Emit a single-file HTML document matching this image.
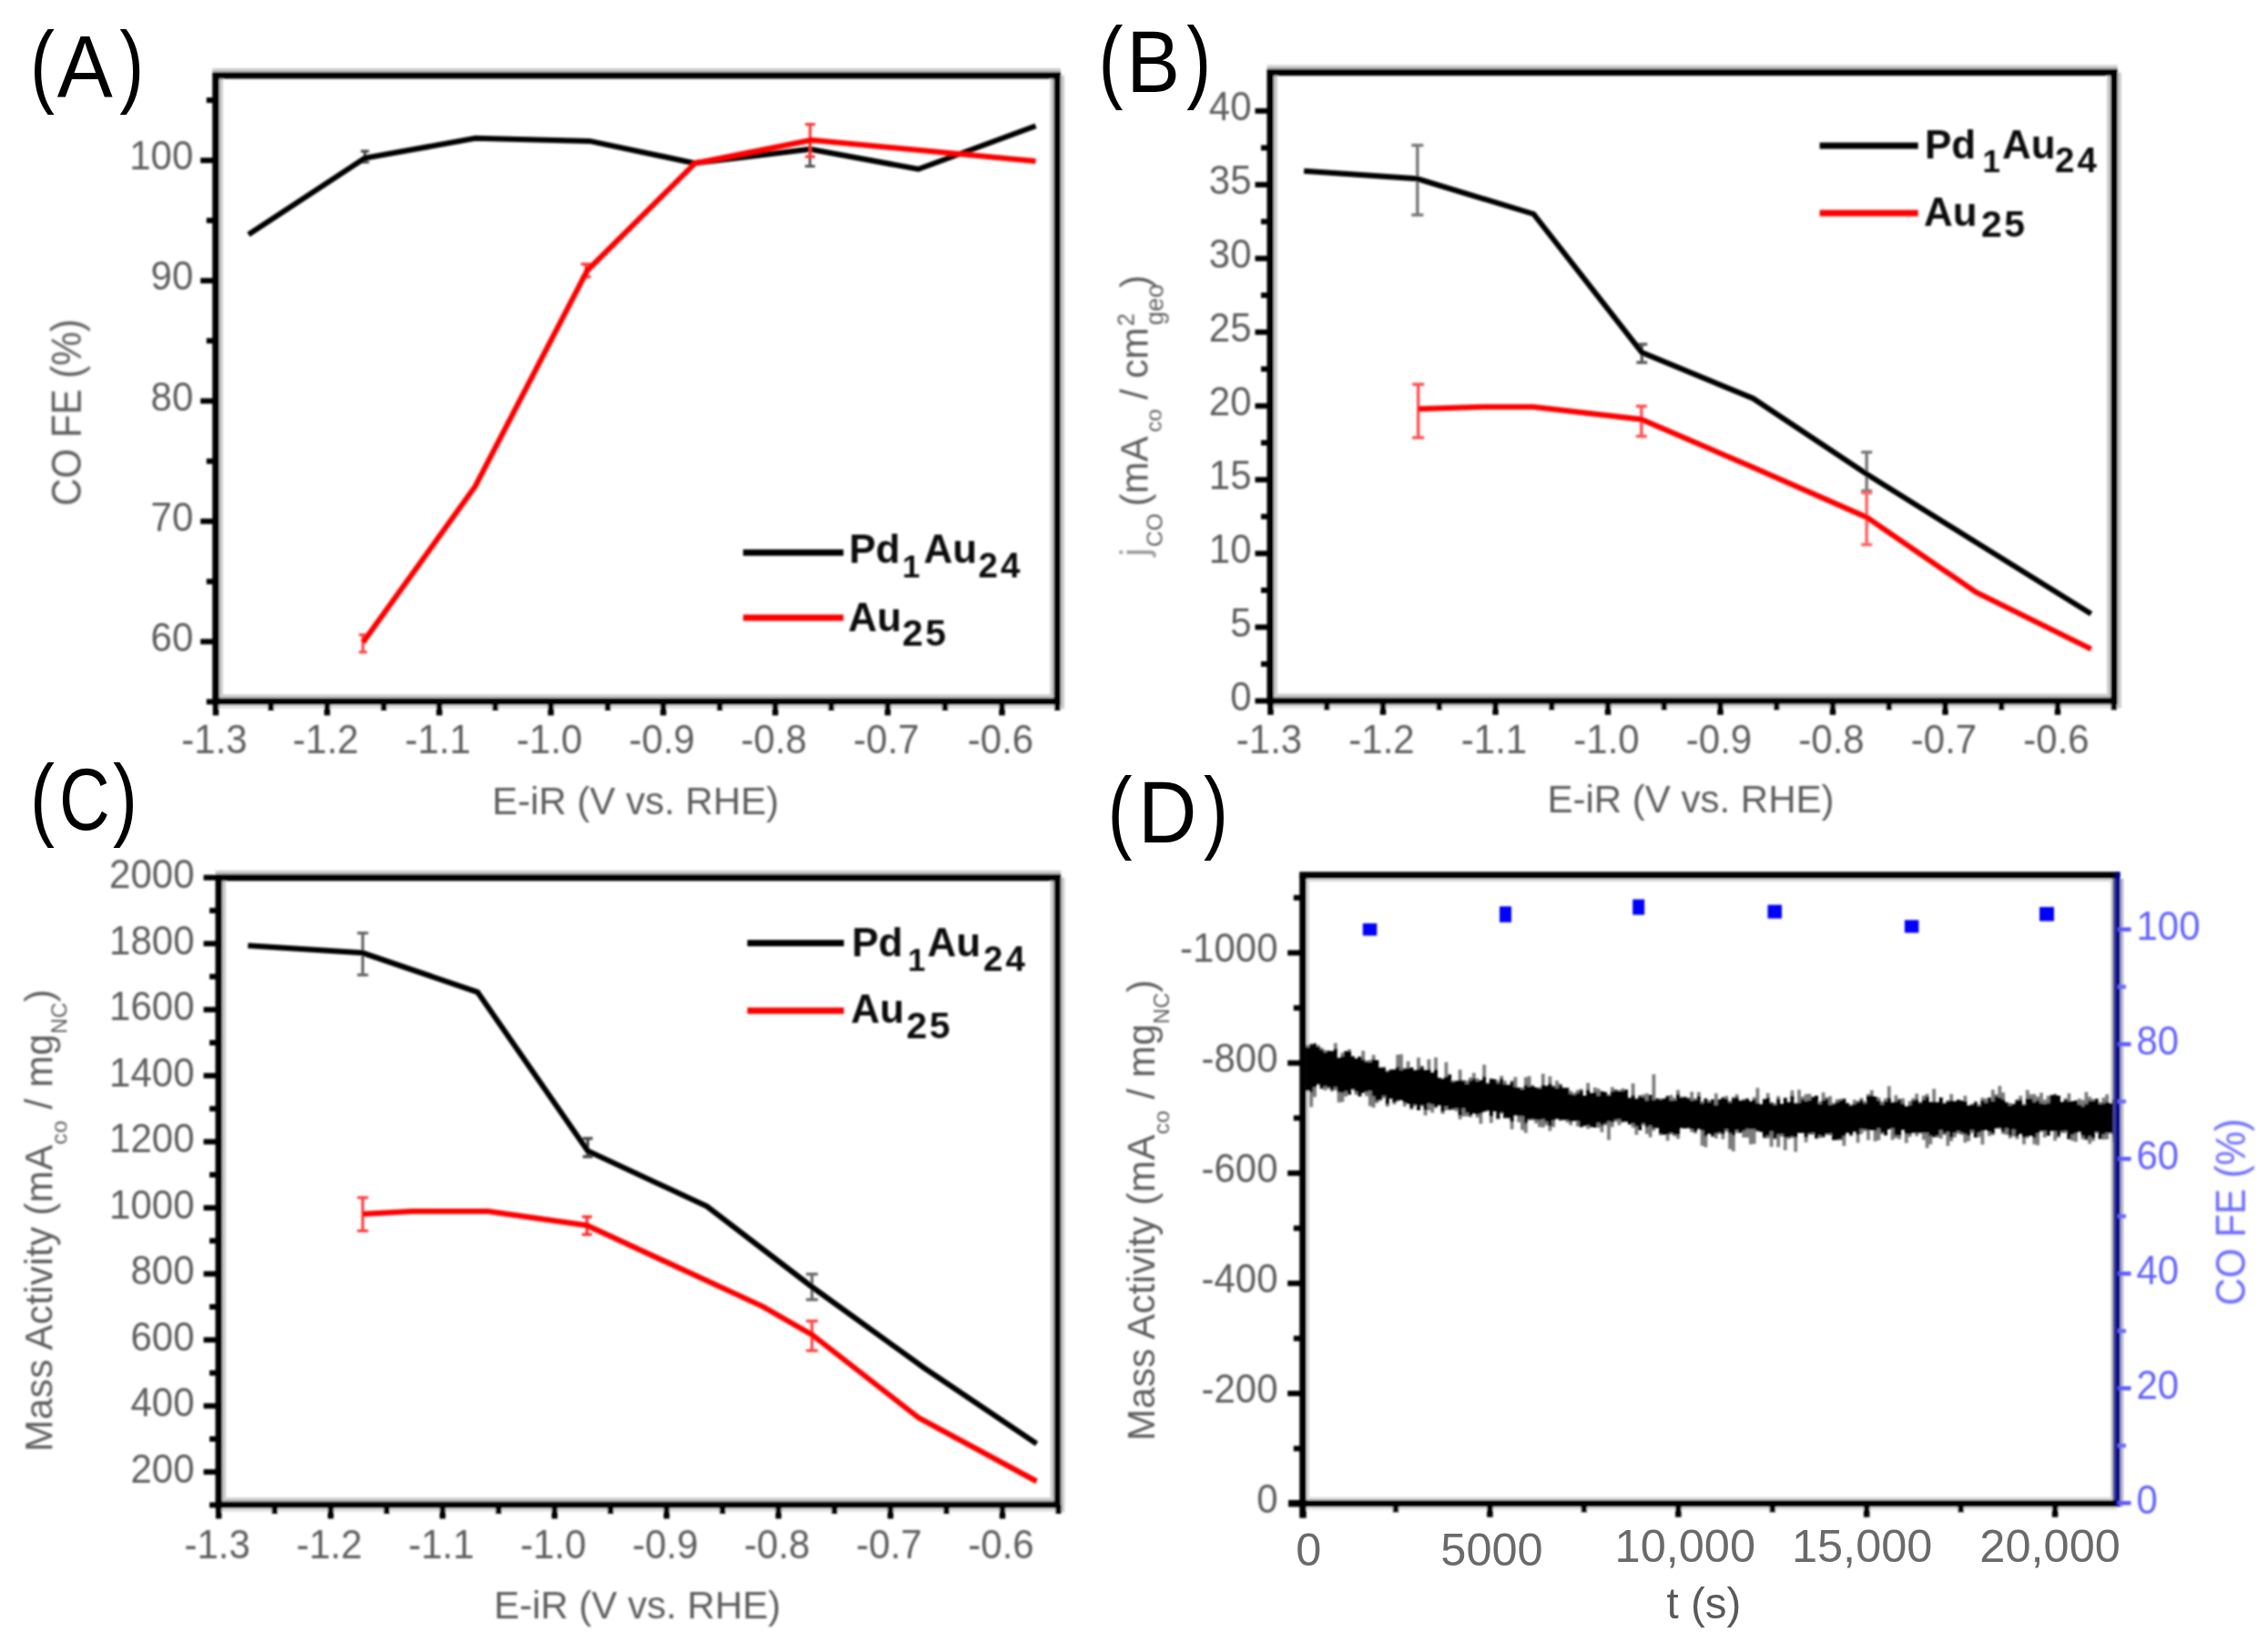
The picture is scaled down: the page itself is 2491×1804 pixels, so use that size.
<!DOCTYPE html>
<html lang="en"><head><meta charset="utf-8"><title>Pd1Au24 vs Au25 CO2 reduction</title>
<style>html,body{margin:0;padding:0;background:#fff}svg{display:block}text{font-family:'Liberation Sans', sans-serif}</style>
</head><body>
<svg width="2491" height="1804" viewBox="0 0 2491 1804">
<defs><filter id="b" x="-2%" y="-2%" width="104%" height="104%"><feGaussianBlur stdDeviation="1.3"/></filter><filter id="b2" x="-2%" y="-2%" width="104%" height="104%"><feGaussianBlur stdDeviation="0.6"/></filter></defs>
<rect x="0" y="0" width="2491" height="1804" fill="#fff"/>
<g id="panelA" filter="url(#b)">
<line x1="233.2" y1="77.1" x2="1165" y2="77.1" stroke="#cacaca" stroke-width="4.4" />
<line x1="242.6" y1="82.7" x2="242.6" y2="770.2" stroke="#cacaca" stroke-width="4.4" />
<line x1="1166.9" y1="82.7" x2="1166.9" y2="778.2" stroke="#cacaca" stroke-width="4.4" />
<line x1="1155.7" y1="82.7" x2="1155.7" y2="770.2" stroke="#cacaca" stroke-width="4.4" />
<line x1="237" y1="764.6" x2="1161.3" y2="764.6" stroke="#cacaca" stroke-width="4.4" />
<line x1="237" y1="775.8" x2="1161.3" y2="775.8" stroke="#e2e2e2" stroke-width="4.4" />
<rect x="237" y="82.7" width="924.3" height="687.5" fill="none" stroke="#000" stroke-width="7.5"/>
<line x1="237" y1="770.2" x2="237" y2="785.5" stroke="#000" stroke-width="6.5" />
<line x1="359.3" y1="770.2" x2="359.3" y2="785.5" stroke="#000" stroke-width="6.5" />
<line x1="482.5" y1="770.2" x2="482.5" y2="785.5" stroke="#000" stroke-width="6.5" />
<line x1="605" y1="770.2" x2="605" y2="785.5" stroke="#000" stroke-width="6.5" />
<line x1="728.5" y1="770.2" x2="728.5" y2="785.5" stroke="#000" stroke-width="6.5" />
<line x1="851.5" y1="770.2" x2="851.5" y2="785.5" stroke="#000" stroke-width="6.5" />
<line x1="975" y1="770.2" x2="975" y2="785.5" stroke="#000" stroke-width="6.5" />
<line x1="1100.5" y1="770.2" x2="1100.5" y2="785.5" stroke="#000" stroke-width="6.5" />
<line x1="297.5" y1="770.2" x2="297.5" y2="780" stroke="#000" stroke-width="6.5" />
<line x1="421.5" y1="770.2" x2="421.5" y2="780" stroke="#000" stroke-width="6.5" />
<line x1="544" y1="770.2" x2="544" y2="780" stroke="#000" stroke-width="6.5" />
<line x1="667.5" y1="770.2" x2="667.5" y2="780" stroke="#000" stroke-width="6.5" />
<line x1="790.5" y1="770.2" x2="790.5" y2="780" stroke="#000" stroke-width="6.5" />
<line x1="913" y1="770.2" x2="913" y2="780" stroke="#000" stroke-width="6.5" />
<line x1="1038" y1="770.2" x2="1038" y2="780" stroke="#000" stroke-width="6.5" />
<line x1="1161.3" y1="770.2" x2="1161.3" y2="780" stroke="#000" stroke-width="6.5" />
<line x1="237" y1="704.5" x2="220.2" y2="704.5" stroke="#000" stroke-width="6" />
<line x1="237" y1="572.4" x2="220.2" y2="572.4" stroke="#000" stroke-width="6" />
<line x1="237" y1="440.3" x2="220.2" y2="440.3" stroke="#000" stroke-width="6" />
<line x1="237" y1="308.2" x2="220.2" y2="308.2" stroke="#000" stroke-width="6" />
<line x1="237" y1="176.1" x2="220.2" y2="176.1" stroke="#000" stroke-width="6" />
<line x1="237" y1="770.5" x2="226.8" y2="770.5" stroke="#000" stroke-width="6" />
<line x1="237" y1="638.5" x2="226.8" y2="638.5" stroke="#000" stroke-width="6" />
<line x1="237" y1="506.4" x2="226.8" y2="506.4" stroke="#000" stroke-width="6" />
<line x1="237" y1="374.2" x2="226.8" y2="374.2" stroke="#000" stroke-width="6" />
<line x1="237" y1="242.1" x2="226.8" y2="242.1" stroke="#000" stroke-width="6" />
<line x1="237" y1="110" x2="226.8" y2="110" stroke="#000" stroke-width="6" />
<text transform="translate(235.5,827) scale(1,1.075)" font-size="42" fill="#5e5e5e" text-anchor="middle">-1.3</text>
<text transform="translate(357.8,827) scale(1,1.075)" font-size="42" fill="#5e5e5e" text-anchor="middle">-1.2</text>
<text transform="translate(481,827) scale(1,1.075)" font-size="42" fill="#5e5e5e" text-anchor="middle">-1.1</text>
<text transform="translate(603.5,827) scale(1,1.075)" font-size="42" fill="#5e5e5e" text-anchor="middle">-1.0</text>
<text transform="translate(727,827) scale(1,1.075)" font-size="42" fill="#5e5e5e" text-anchor="middle">-0.9</text>
<text transform="translate(850,827) scale(1,1.075)" font-size="42" fill="#5e5e5e" text-anchor="middle">-0.8</text>
<text transform="translate(973.5,827) scale(1,1.075)" font-size="42" fill="#5e5e5e" text-anchor="middle">-0.7</text>
<text transform="translate(1099,827) scale(1,1.075)" font-size="42" fill="#5e5e5e" text-anchor="middle">-0.6</text>
<text transform="translate(212.3,714.7) scale(1,1.075)" font-size="42" fill="#5e5e5e" text-anchor="end">60</text>
<text transform="translate(212.3,582.6) scale(1,1.075)" font-size="42" fill="#5e5e5e" text-anchor="end">70</text>
<text transform="translate(212.3,450.5) scale(1,1.075)" font-size="42" fill="#5e5e5e" text-anchor="end">80</text>
<text transform="translate(212.3,318.4) scale(1,1.075)" font-size="42" fill="#5e5e5e" text-anchor="end">90</text>
<text transform="translate(212.3,186.3) scale(1,1.075)" font-size="42" fill="#5e5e5e" text-anchor="end">100</text>
<text x="698" y="893.5" font-size="42" fill="#5e5e5e" text-anchor="middle" font-weight="normal" >E-iR (V vs. RHE)</text>
<text transform="translate(88.8,555.5) rotate(-90) scale(1,1.1)" font-size="42" fill="#5e5e5e">CO FE (%)</text>
<line x1="889.6" y1="156" x2="889.6" y2="182.5" stroke="#555" stroke-width="3" />
<line x1="884.1" y1="156" x2="895.1" y2="156" stroke="#555" stroke-width="3" />
<line x1="884.1" y1="182.5" x2="895.1" y2="182.5" stroke="#555" stroke-width="3" />
<line x1="400.8" y1="166" x2="400.8" y2="178" stroke="#444" stroke-width="3" />
<line x1="396.3" y1="166" x2="405.3" y2="166" stroke="#444" stroke-width="3" />
<line x1="396.3" y1="178" x2="405.3" y2="178" stroke="#444" stroke-width="3" />
<polyline points="272.9,257.4 400.8,173.6 522,151.8 647.7,154.9 762.8,179.1 889.6,163.7 1008.6,185.7 1137.6,138.3" fill="none" stroke="#000" stroke-width="6" stroke-linejoin="miter" stroke-linecap="butt"/>
<line x1="889.8" y1="136.5" x2="889.8" y2="172" stroke="#ff3030" stroke-width="3" />
<line x1="884.3" y1="136.5" x2="895.3" y2="136.5" stroke="#ff3030" stroke-width="3" />
<line x1="884.3" y1="172" x2="895.3" y2="172" stroke="#ff3030" stroke-width="3" />
<line x1="643.5" y1="290" x2="643.5" y2="304" stroke="#ff3030" stroke-width="3" />
<line x1="638" y1="290" x2="649" y2="290" stroke="#ff3030" stroke-width="3" />
<line x1="638" y1="304" x2="649" y2="304" stroke="#ff3030" stroke-width="3" />
<line x1="398.6" y1="697" x2="398.6" y2="716" stroke="#ff4040" stroke-width="3" />
<line x1="394.1" y1="697" x2="403.1" y2="697" stroke="#ff4040" stroke-width="3" />
<line x1="394.1" y1="716" x2="403.1" y2="716" stroke="#ff4040" stroke-width="3" />
<polyline points="398.6,705.5 522,534 645,297 763.5,179.2 891,153.8 1137.6,176.9" fill="none" stroke="#ff0000" stroke-width="6" stroke-linejoin="miter" stroke-linecap="butt"/>
<line x1="816.2" y1="606.7" x2="926.4" y2="606.7" stroke="#000" stroke-width="7" />
<line x1="816.2" y1="678.2" x2="926.4" y2="678.2" stroke="#ff0000" stroke-width="7" />
<text font-weight="bold" fill="#111" font-size="44"><tspan x="932.5" y="618.3">Pd</tspan><tspan x="991" y="633.8" font-size="35">1</tspan><tspan x="1014.6" y="618.3">Au</tspan><tspan x="1074.5" y="633.8" font-size="38.5" letter-spacing="3.2">24</tspan></text>
<text font-weight="bold" fill="#111" font-size="44"><tspan x="931.5" y="692.5">Au</tspan><tspan x="991" y="709" font-size="41" letter-spacing="2.5">25</tspan></text>
</g>
<g id="panelB" filter="url(#b)">
<line x1="1391.5" y1="73.8" x2="2325.8" y2="73.8" stroke="#cacaca" stroke-width="4.4" />
<line x1="1400.8" y1="79.4" x2="1400.8" y2="769.6" stroke="#cacaca" stroke-width="4.4" />
<line x1="2327.6" y1="79.4" x2="2327.6" y2="777.6" stroke="#cacaca" stroke-width="4.4" />
<line x1="2316.4" y1="79.4" x2="2316.4" y2="769.6" stroke="#cacaca" stroke-width="4.4" />
<line x1="1395.2" y1="764" x2="2322" y2="764" stroke="#cacaca" stroke-width="4.4" />
<line x1="1395.2" y1="775.2" x2="2322" y2="775.2" stroke="#e2e2e2" stroke-width="4.4" />
<rect x="1395.2" y="79.4" width="926.8" height="690.2" fill="none" stroke="#000" stroke-width="7.5"/>
<line x1="1395.5" y1="769.6" x2="1395.5" y2="784.9" stroke="#000" stroke-width="6.5" />
<line x1="1519" y1="769.6" x2="1519" y2="784.9" stroke="#000" stroke-width="6.5" />
<line x1="1642.5" y1="769.6" x2="1642.5" y2="784.9" stroke="#000" stroke-width="6.5" />
<line x1="1766" y1="769.6" x2="1766" y2="784.9" stroke="#000" stroke-width="6.5" />
<line x1="1889.5" y1="769.6" x2="1889.5" y2="784.9" stroke="#000" stroke-width="6.5" />
<line x1="2013" y1="769.6" x2="2013" y2="784.9" stroke="#000" stroke-width="6.5" />
<line x1="2136.5" y1="769.6" x2="2136.5" y2="784.9" stroke="#000" stroke-width="6.5" />
<line x1="2260" y1="769.6" x2="2260" y2="784.9" stroke="#000" stroke-width="6.5" />
<line x1="1457.2" y1="769.6" x2="1457.2" y2="779.4" stroke="#000" stroke-width="6.5" />
<line x1="1580.8" y1="769.6" x2="1580.8" y2="779.4" stroke="#000" stroke-width="6.5" />
<line x1="1704.2" y1="769.6" x2="1704.2" y2="779.4" stroke="#000" stroke-width="6.5" />
<line x1="1827.8" y1="769.6" x2="1827.8" y2="779.4" stroke="#000" stroke-width="6.5" />
<line x1="1951.2" y1="769.6" x2="1951.2" y2="779.4" stroke="#000" stroke-width="6.5" />
<line x1="2074.8" y1="769.6" x2="2074.8" y2="779.4" stroke="#000" stroke-width="6.5" />
<line x1="2198.2" y1="769.6" x2="2198.2" y2="779.4" stroke="#000" stroke-width="6.5" />
<line x1="2321.8" y1="769.6" x2="2321.8" y2="779.4" stroke="#000" stroke-width="6.5" />
<line x1="1395.2" y1="769.6" x2="1378.5" y2="769.6" stroke="#000" stroke-width="6" />
<line x1="1395.2" y1="688.6" x2="1378.5" y2="688.6" stroke="#000" stroke-width="6" />
<line x1="1395.2" y1="607.7" x2="1378.5" y2="607.7" stroke="#000" stroke-width="6" />
<line x1="1395.2" y1="526.7" x2="1378.5" y2="526.7" stroke="#000" stroke-width="6" />
<line x1="1395.2" y1="445.7" x2="1378.5" y2="445.7" stroke="#000" stroke-width="6" />
<line x1="1395.2" y1="364.7" x2="1378.5" y2="364.7" stroke="#000" stroke-width="6" />
<line x1="1395.2" y1="283.8" x2="1378.5" y2="283.8" stroke="#000" stroke-width="6" />
<line x1="1395.2" y1="202.8" x2="1378.5" y2="202.8" stroke="#000" stroke-width="6" />
<line x1="1395.2" y1="121.8" x2="1378.5" y2="121.8" stroke="#000" stroke-width="6" />
<line x1="1395.2" y1="729.1" x2="1385" y2="729.1" stroke="#000" stroke-width="6" />
<line x1="1395.2" y1="648.1" x2="1385" y2="648.1" stroke="#000" stroke-width="6" />
<line x1="1395.2" y1="567.2" x2="1385" y2="567.2" stroke="#000" stroke-width="6" />
<line x1="1395.2" y1="486.2" x2="1385" y2="486.2" stroke="#000" stroke-width="6" />
<line x1="1395.2" y1="405.2" x2="1385" y2="405.2" stroke="#000" stroke-width="6" />
<line x1="1395.2" y1="324.2" x2="1385" y2="324.2" stroke="#000" stroke-width="6" />
<line x1="1395.2" y1="243.3" x2="1385" y2="243.3" stroke="#000" stroke-width="6" />
<line x1="1395.2" y1="162.3" x2="1385" y2="162.3" stroke="#000" stroke-width="6" />
<text transform="translate(1394,826.5) scale(1,1.075)" font-size="42" fill="#5e5e5e" text-anchor="middle">-1.3</text>
<text transform="translate(1517.5,826.5) scale(1,1.075)" font-size="42" fill="#5e5e5e" text-anchor="middle">-1.2</text>
<text transform="translate(1641,826.5) scale(1,1.075)" font-size="42" fill="#5e5e5e" text-anchor="middle">-1.1</text>
<text transform="translate(1764.5,826.5) scale(1,1.075)" font-size="42" fill="#5e5e5e" text-anchor="middle">-1.0</text>
<text transform="translate(1888,826.5) scale(1,1.075)" font-size="42" fill="#5e5e5e" text-anchor="middle">-0.9</text>
<text transform="translate(2011.5,826.5) scale(1,1.075)" font-size="42" fill="#5e5e5e" text-anchor="middle">-0.8</text>
<text transform="translate(2135,826.5) scale(1,1.075)" font-size="42" fill="#5e5e5e" text-anchor="middle">-0.7</text>
<text transform="translate(2258.5,826.5) scale(1,1.075)" font-size="42" fill="#5e5e5e" text-anchor="middle">-0.6</text>
<text transform="translate(1374.5,779.8) scale(1,1.075)" font-size="42" fill="#5e5e5e" text-anchor="end">0</text>
<text transform="translate(1374.5,698.8) scale(1,1.075)" font-size="42" fill="#5e5e5e" text-anchor="end">5</text>
<text transform="translate(1374.5,617.9) scale(1,1.075)" font-size="42" fill="#5e5e5e" text-anchor="end">10</text>
<text transform="translate(1374.5,536.9) scale(1,1.075)" font-size="42" fill="#5e5e5e" text-anchor="end">15</text>
<text transform="translate(1374.5,455.9) scale(1,1.075)" font-size="42" fill="#5e5e5e" text-anchor="end">20</text>
<text transform="translate(1374.5,374.9) scale(1,1.075)" font-size="42" fill="#5e5e5e" text-anchor="end">25</text>
<text transform="translate(1374.5,293.9) scale(1,1.075)" font-size="42" fill="#5e5e5e" text-anchor="end">30</text>
<text transform="translate(1374.5,213) scale(1,1.075)" font-size="42" fill="#5e5e5e" text-anchor="end">35</text>
<text transform="translate(1374.5,132) scale(1,1.075)" font-size="42" fill="#5e5e5e" text-anchor="end">40</text>
<text x="1857" y="891.5" font-size="42" fill="#5e5e5e" text-anchor="middle" font-weight="normal" >E-iR (V vs. RHE)</text>
<g transform="translate(1260.5,611) rotate(-90)" fill="#5e5e5e" font-size="42">
<text><tspan x="0" y="0" fill="#9a9a9a">j</tspan><tspan x="10.5" y="15.5" font-size="24.5">CO</tspan><tspan x="43.3" y="0"> (mA</tspan><tspan x="136.5" y="15" font-size="24">co</tspan><tspan x="160.5" y="0"> / cm</tspan><tspan x="253" y="-15" font-size="25">2</tspan><tspan x="254" y="17" font-size="27">geo</tspan><tspan x="295" y="0">)</tspan></text>
</g>
<line x1="1556.8" y1="159.5" x2="1556.8" y2="236" stroke="#777" stroke-width="3.4" />
<line x1="1550.3" y1="159.5" x2="1563.3" y2="159.5" stroke="#777" stroke-width="3.4" />
<line x1="1550.3" y1="236" x2="1563.3" y2="236" stroke="#777" stroke-width="3.4" />
<line x1="1803.3" y1="378" x2="1803.3" y2="398" stroke="#555" stroke-width="3.2" />
<line x1="1797.3" y1="378" x2="1809.3" y2="378" stroke="#555" stroke-width="3.2" />
<line x1="1797.3" y1="398" x2="1809.3" y2="398" stroke="#555" stroke-width="3.2" />
<line x1="2050.2" y1="496.5" x2="2050.2" y2="539" stroke="#777" stroke-width="3.4" />
<line x1="2044.2" y1="496.5" x2="2056.2" y2="496.5" stroke="#777" stroke-width="3.4" />
<line x1="2044.2" y1="539" x2="2056.2" y2="539" stroke="#777" stroke-width="3.4" />
<polyline points="1432.2,187.7 1556.8,196.3 1684.4,235 1803.3,387 1925.5,437.5 2050.2,520.6 2172,596.5 2296.7,674" fill="none" stroke="#000" stroke-width="6" stroke-linejoin="miter" stroke-linecap="butt"/>
<line x1="1557.7" y1="422" x2="1557.7" y2="480.5" stroke="#ff5050" stroke-width="3.4" />
<line x1="1551.2" y1="422" x2="1564.2" y2="422" stroke="#ff5050" stroke-width="3.4" />
<line x1="1551.2" y1="480.5" x2="1564.2" y2="480.5" stroke="#ff5050" stroke-width="3.4" />
<line x1="1802.8" y1="446" x2="1802.8" y2="479" stroke="#ff5050" stroke-width="3.4" />
<line x1="1796.8" y1="446" x2="1808.8" y2="446" stroke="#ff5050" stroke-width="3.4" />
<line x1="1796.8" y1="479" x2="1808.8" y2="479" stroke="#ff5050" stroke-width="3.4" />
<line x1="2050.2" y1="541" x2="2050.2" y2="598" stroke="#ff6060" stroke-width="3.4" />
<line x1="2044.2" y1="541" x2="2056.2" y2="541" stroke="#ff6060" stroke-width="3.4" />
<line x1="2044.2" y1="598" x2="2056.2" y2="598" stroke="#ff6060" stroke-width="3.4" />
<polyline points="1557.7,449 1629.4,446.7 1683.8,446.7 1802.8,460.4 1925,513 2050.2,567.9 2170.6,650.5 2296.7,712.6" fill="none" stroke="#ff0000" stroke-width="6" stroke-linejoin="miter" stroke-linecap="butt"/>
<line x1="1998.6" y1="160.1" x2="2106.7" y2="160.1" stroke="#000" stroke-width="7" />
<line x1="1998.6" y1="234" x2="2106.7" y2="234" stroke="#ff0000" stroke-width="7" />
<text font-weight="bold" fill="#111" font-size="44"><tspan x="2114" y="173.8">Pd</tspan><tspan x="2177.5" y="189.3" font-size="35">1</tspan><tspan x="2199" y="173.8">Au</tspan><tspan x="2257" y="189.3" font-size="38.5" letter-spacing="3.2">24</tspan></text>
<text font-weight="bold" fill="#111" font-size="44"><tspan x="2113" y="248.3">Au</tspan><tspan x="2176" y="259.8" font-size="41" letter-spacing="2.5">25</tspan></text>
</g>
<g id="panelC" filter="url(#b)">
<line x1="236.6" y1="957.9" x2="1165.2" y2="957.9" stroke="#cacaca" stroke-width="4.4" />
<line x1="245.9" y1="963.5" x2="245.9" y2="1652.3" stroke="#cacaca" stroke-width="4.4" />
<line x1="1167.1" y1="963.5" x2="1167.1" y2="1660.3" stroke="#cacaca" stroke-width="4.4" />
<line x1="1155.9" y1="963.5" x2="1155.9" y2="1652.3" stroke="#cacaca" stroke-width="4.4" />
<line x1="240.3" y1="1646.7" x2="1161.5" y2="1646.7" stroke="#cacaca" stroke-width="4.4" />
<line x1="240.3" y1="1657.9" x2="1161.5" y2="1657.9" stroke="#e2e2e2" stroke-width="4.4" />
<rect x="240.3" y="963.5" width="921.2" height="688.8" fill="none" stroke="#000" stroke-width="7.5"/>
<line x1="240.2" y1="1652.3" x2="240.2" y2="1667.5" stroke="#000" stroke-width="6.5" />
<line x1="363.2" y1="1652.3" x2="363.2" y2="1667.5" stroke="#000" stroke-width="6.5" />
<line x1="486.1" y1="1652.3" x2="486.1" y2="1667.5" stroke="#000" stroke-width="6.5" />
<line x1="609.1" y1="1652.3" x2="609.1" y2="1667.5" stroke="#000" stroke-width="6.5" />
<line x1="732.1" y1="1652.3" x2="732.1" y2="1667.5" stroke="#000" stroke-width="6.5" />
<line x1="855" y1="1652.3" x2="855" y2="1667.5" stroke="#000" stroke-width="6.5" />
<line x1="978" y1="1652.3" x2="978" y2="1667.5" stroke="#000" stroke-width="6.5" />
<line x1="1101" y1="1652.3" x2="1101" y2="1667.5" stroke="#000" stroke-width="6.5" />
<line x1="301.7" y1="1652.3" x2="301.7" y2="1662" stroke="#000" stroke-width="6.5" />
<line x1="424.7" y1="1652.3" x2="424.7" y2="1662" stroke="#000" stroke-width="6.5" />
<line x1="547.6" y1="1652.3" x2="547.6" y2="1662" stroke="#000" stroke-width="6.5" />
<line x1="670.6" y1="1652.3" x2="670.6" y2="1662" stroke="#000" stroke-width="6.5" />
<line x1="793.6" y1="1652.3" x2="793.6" y2="1662" stroke="#000" stroke-width="6.5" />
<line x1="916.5" y1="1652.3" x2="916.5" y2="1662" stroke="#000" stroke-width="6.5" />
<line x1="1039.5" y1="1652.3" x2="1039.5" y2="1662" stroke="#000" stroke-width="6.5" />
<line x1="1162.5" y1="1652.3" x2="1162.5" y2="1662" stroke="#000" stroke-width="6.5" />
<line x1="240.3" y1="1616.2" x2="223.6" y2="1616.2" stroke="#000" stroke-width="6" />
<line x1="240.3" y1="1543.7" x2="223.6" y2="1543.7" stroke="#000" stroke-width="6" />
<line x1="240.3" y1="1471.2" x2="223.6" y2="1471.2" stroke="#000" stroke-width="6" />
<line x1="240.3" y1="1398.7" x2="223.6" y2="1398.7" stroke="#000" stroke-width="6" />
<line x1="240.3" y1="1326.2" x2="223.6" y2="1326.2" stroke="#000" stroke-width="6" />
<line x1="240.3" y1="1253.6" x2="223.6" y2="1253.6" stroke="#000" stroke-width="6" />
<line x1="240.3" y1="1181.1" x2="223.6" y2="1181.1" stroke="#000" stroke-width="6" />
<line x1="240.3" y1="1108.6" x2="223.6" y2="1108.6" stroke="#000" stroke-width="6" />
<line x1="240.3" y1="1036.1" x2="223.6" y2="1036.1" stroke="#000" stroke-width="6" />
<line x1="240.3" y1="963.6" x2="223.6" y2="963.6" stroke="#000" stroke-width="6" />
<line x1="240.3" y1="1652.5" x2="230.1" y2="1652.5" stroke="#000" stroke-width="6" />
<line x1="240.3" y1="1580" x2="230.1" y2="1580" stroke="#000" stroke-width="6" />
<line x1="240.3" y1="1507.5" x2="230.1" y2="1507.5" stroke="#000" stroke-width="6" />
<line x1="240.3" y1="1434.9" x2="230.1" y2="1434.9" stroke="#000" stroke-width="6" />
<line x1="240.3" y1="1362.4" x2="230.1" y2="1362.4" stroke="#000" stroke-width="6" />
<line x1="240.3" y1="1289.9" x2="230.1" y2="1289.9" stroke="#000" stroke-width="6" />
<line x1="240.3" y1="1217.4" x2="230.1" y2="1217.4" stroke="#000" stroke-width="6" />
<line x1="240.3" y1="1144.9" x2="230.1" y2="1144.9" stroke="#000" stroke-width="6" />
<line x1="240.3" y1="1072.3" x2="230.1" y2="1072.3" stroke="#000" stroke-width="6" />
<line x1="240.3" y1="999.8" x2="230.1" y2="999.8" stroke="#000" stroke-width="6" />
<text transform="translate(238.7,1710.5) scale(1,1.075)" font-size="42" fill="#5e5e5e" text-anchor="middle">-1.3</text>
<text transform="translate(361.7,1710.5) scale(1,1.075)" font-size="42" fill="#5e5e5e" text-anchor="middle">-1.2</text>
<text transform="translate(484.6,1710.5) scale(1,1.075)" font-size="42" fill="#5e5e5e" text-anchor="middle">-1.1</text>
<text transform="translate(607.6,1710.5) scale(1,1.075)" font-size="42" fill="#5e5e5e" text-anchor="middle">-1.0</text>
<text transform="translate(730.6,1710.5) scale(1,1.075)" font-size="42" fill="#5e5e5e" text-anchor="middle">-0.9</text>
<text transform="translate(853.5,1710.5) scale(1,1.075)" font-size="42" fill="#5e5e5e" text-anchor="middle">-0.8</text>
<text transform="translate(976.5,1710.5) scale(1,1.075)" font-size="42" fill="#5e5e5e" text-anchor="middle">-0.7</text>
<text transform="translate(1099.5,1710.5) scale(1,1.075)" font-size="42" fill="#5e5e5e" text-anchor="middle">-0.6</text>
<text transform="translate(213.5,1627.9) scale(1,1.075)" font-size="42" fill="#5e5e5e" text-anchor="end">200</text>
<text transform="translate(213.5,1555.4) scale(1,1.075)" font-size="42" fill="#5e5e5e" text-anchor="end">400</text>
<text transform="translate(213.5,1482.9) scale(1,1.075)" font-size="42" fill="#5e5e5e" text-anchor="end">600</text>
<text transform="translate(213.5,1410.4) scale(1,1.075)" font-size="42" fill="#5e5e5e" text-anchor="end">800</text>
<text transform="translate(213.5,1337.9) scale(1,1.075)" font-size="42" fill="#5e5e5e" text-anchor="end">1000</text>
<text transform="translate(213.5,1265.3) scale(1,1.075)" font-size="42" fill="#5e5e5e" text-anchor="end">1200</text>
<text transform="translate(213.5,1192.8) scale(1,1.075)" font-size="42" fill="#5e5e5e" text-anchor="end">1400</text>
<text transform="translate(213.5,1120.3) scale(1,1.075)" font-size="42" fill="#5e5e5e" text-anchor="end">1600</text>
<text transform="translate(213.5,1047.8) scale(1,1.075)" font-size="42" fill="#5e5e5e" text-anchor="end">1800</text>
<text transform="translate(213.5,975.3) scale(1,1.075)" font-size="42" fill="#5e5e5e" text-anchor="end">2000</text>
<text x="700" y="1776.5" font-size="42" fill="#5e5e5e" text-anchor="middle" font-weight="normal" >E-iR (V vs. RHE)</text>
<text transform="translate(57.3,1594) rotate(-90)" font-size="42" letter-spacing="0.35" fill="#5e5e5e">Mass Activity (mA<tspan font-size="24.5" dy="15.5">co</tspan><tspan dy="-15.5"> / mg</tspan><tspan font-size="23.5" dy="15.5">NC</tspan><tspan dy="-15.5">)</tspan></text>
<line x1="398.4" y1="1024.5" x2="398.4" y2="1070.5" stroke="#666" stroke-width="3.2" />
<line x1="392.4" y1="1024.5" x2="404.4" y2="1024.5" stroke="#666" stroke-width="3.2" />
<line x1="392.4" y1="1070.5" x2="404.4" y2="1070.5" stroke="#666" stroke-width="3.2" />
<line x1="645.5" y1="1250" x2="645.5" y2="1270" stroke="#444" stroke-width="3.2" />
<line x1="640" y1="1250" x2="651" y2="1250" stroke="#444" stroke-width="3.2" />
<line x1="640" y1="1270" x2="651" y2="1270" stroke="#444" stroke-width="3.2" />
<line x1="891.8" y1="1399" x2="891.8" y2="1427" stroke="#666" stroke-width="3.2" />
<line x1="885.3" y1="1399" x2="898.3" y2="1399" stroke="#666" stroke-width="3.2" />
<line x1="885.3" y1="1427" x2="898.3" y2="1427" stroke="#666" stroke-width="3.2" />
<polyline points="272.3,1038.3 398.4,1046.3 524.5,1089.3 645.5,1263.6 776.5,1324.6 891.8,1413 1015,1502 1138.6,1585.3" fill="none" stroke="#000" stroke-width="6" stroke-linejoin="miter" stroke-linecap="butt"/>
<line x1="398.4" y1="1315" x2="398.4" y2="1351.5" stroke="#ff4040" stroke-width="3.2" />
<line x1="392.4" y1="1315" x2="404.4" y2="1315" stroke="#ff4040" stroke-width="3.2" />
<line x1="392.4" y1="1351.5" x2="404.4" y2="1351.5" stroke="#ff4040" stroke-width="3.2" />
<line x1="644.7" y1="1336" x2="644.7" y2="1355.5" stroke="#ff3030" stroke-width="3.2" />
<line x1="639.2" y1="1336" x2="650.2" y2="1336" stroke="#ff3030" stroke-width="3.2" />
<line x1="639.2" y1="1355.5" x2="650.2" y2="1355.5" stroke="#ff3030" stroke-width="3.2" />
<line x1="891.8" y1="1450.5" x2="891.8" y2="1483" stroke="#ff4040" stroke-width="3.2" />
<line x1="885.3" y1="1450.5" x2="898.3" y2="1450.5" stroke="#ff4040" stroke-width="3.2" />
<line x1="885.3" y1="1483" x2="898.3" y2="1483" stroke="#ff4040" stroke-width="3.2" />
<polyline points="398.4,1333 452.9,1330 536,1330 644.7,1345.5 837.9,1434.6 891.8,1465.5 1009.4,1557 1138.6,1626.5" fill="none" stroke="#ff0000" stroke-width="6" stroke-linejoin="miter" stroke-linecap="butt"/>
<line x1="820.8" y1="1035.4" x2="926.9" y2="1035.4" stroke="#000" stroke-width="7" />
<line x1="820.8" y1="1109.7" x2="926.9" y2="1109.7" stroke="#ff0000" stroke-width="7" />
<text font-weight="bold" fill="#111" font-size="44"><tspan x="935.5" y="1050">Pd</tspan><tspan x="997" y="1065.5" font-size="35">1</tspan><tspan x="1018.6" y="1050">Au</tspan><tspan x="1080" y="1065.5" font-size="38.5" letter-spacing="3.2">24</tspan></text>
<text font-weight="bold" fill="#111" font-size="44"><tspan x="934.5" y="1123.2">Au</tspan><tspan x="995.5" y="1139.7" font-size="41" letter-spacing="2.5">25</tspan></text>
</g>
<g id="panelD" filter="url(#b)">
<line x1="1431" y1="966.4" x2="2321.3" y2="966.4" stroke="#dcdcdc" stroke-width="3.5" />
<line x1="1436.4" y1="961" x2="1436.4" y2="1650.8" stroke="#dcdcdc" stroke-width="3.5" />
<line x1="2319.7" y1="961" x2="2319.7" y2="1650.8" stroke="#d8d8d0" stroke-width="3.5" />
<line x1="1431" y1="1645.4" x2="2325.3" y2="1645.4" stroke="#dcdcdc" stroke-width="3.5" />
<line x1="1431" y1="1656.2" x2="2325.3" y2="1656.2" stroke="#e6e6e6" stroke-width="3.5" />
<path d="M1434.5,1147.4H1438.3L1438.3,1145.7H1442.1L1442.1,1145.7H1445.9L1445.9,1147.6H1449.7L1449.7,1150.4H1453.5L1453.5,1153.1H1457.3L1457.3,1153.7H1461.1L1461.1,1154.1H1464.9L1464.9,1145.2H1468.7L1468.7,1161.5H1472.5L1472.5,1155.8H1476.3L1476.3,1154H1480.1L1480.1,1152.1H1483.9L1483.9,1159.5H1487.7L1487.7,1162.3H1491.5L1491.5,1160H1495.3L1495.3,1153.7H1499.1L1499.1,1164.5H1502.9L1502.9,1163.8H1506.7L1506.7,1158.2H1510.5L1510.5,1164.1H1514.3L1514.3,1172H1518.1L1518.1,1171.2H1521.9L1521.9,1175.8H1525.7L1525.7,1174.4H1529.5L1529.5,1173.8H1533.3L1533.3,1158H1537.1L1537.1,1157.4H1540.9L1540.9,1172.7H1544.7L1544.7,1165.3H1548.5L1548.5,1172.1H1552.3L1552.3,1175.2H1556.1L1556.1,1161.3H1559.9L1559.9,1170.2H1563.7L1563.7,1174.9H1567.5L1567.5,1163.1H1571.3L1571.3,1177.8H1575.1L1575.1,1161H1578.9L1578.9,1183.5H1582.7L1582.7,1184.6H1586.5L1586.5,1166.2H1590.3L1590.3,1179.8H1594.1L1594.1,1186.5H1597.9L1597.9,1186.7H1601.7L1601.7,1174.6H1605.5L1605.5,1185.9H1609.3L1609.3,1186.6H1613.1L1613.1,1182.9H1616.9L1616.9,1177.9H1620.7L1620.7,1184H1624.5L1624.5,1186.1H1628.3L1628.3,1169H1632.1L1632.1,1189.1H1635.9L1635.9,1184.4H1639.7L1639.7,1184.9H1643.5L1643.5,1186.6H1647.3L1647.3,1181.3H1651.1L1651.1,1186.7H1654.9L1654.9,1190.9H1658.7L1658.7,1186.4H1662.5L1662.5,1182.6H1666.3L1666.3,1194.3H1670.1L1670.1,1193.9H1673.9L1673.9,1182.7H1677.7L1677.7,1181.4H1681.5L1681.5,1191.5H1685.3L1685.3,1194H1689.1L1689.1,1193.7H1692.9L1692.9,1178.9H1696.7L1696.7,1192.2H1700.5L1700.5,1181.7H1704.3L1704.3,1192.1H1708.1L1708.1,1186.4H1711.9L1711.9,1189.9H1715.7L1715.7,1194.5H1719.5L1719.5,1194.6H1723.3L1723.3,1197.8H1727.1L1727.1,1199.7H1730.9L1730.9,1196.8H1734.7L1734.7,1195.4H1738.5L1738.5,1202.9H1742.3L1742.3,1188.9H1746.1L1746.1,1200.2H1749.9L1749.9,1194H1753.7L1753.7,1195.2H1757.5L1757.5,1198.2H1761.3L1761.3,1198.7H1765.1L1765.1,1201.7H1768.9L1768.9,1193.5H1772.7L1772.7,1196H1776.5L1776.5,1196.9H1780.3L1780.3,1195H1784.1L1784.1,1196.4H1787.9L1787.9,1205.6H1791.7L1791.7,1189.4H1795.5L1795.5,1206.4H1799.3L1799.3,1202.6H1803.1L1803.1,1201.7H1806.9L1806.9,1200.4H1810.7L1810.7,1202.3H1814.5L1814.5,1179.5H1818.3L1818.3,1205.8H1822.1L1822.1,1206.1H1825.9L1825.9,1206.3H1829.7L1829.7,1203.4H1833.5L1833.5,1202.2H1837.3L1837.3,1205.3H1841.1L1841.1,1196.8H1844.9L1844.9,1204.1H1848.7L1848.7,1204.6H1852.5L1852.5,1205.3H1856.3L1856.3,1198.7H1860.1L1860.1,1206H1863.9L1863.9,1199H1867.7L1867.7,1209.2H1871.5L1871.5,1206H1875.3L1875.3,1208H1879.1L1879.1,1207.1H1882.9L1882.9,1200.6H1886.7L1886.7,1207H1890.5L1890.5,1204.6H1894.3L1894.3,1203.3H1898.1L1898.1,1208.8H1901.9L1901.9,1204.6H1905.7L1905.7,1201.6H1909.5L1909.5,1208.6H1913.3L1913.3,1206.7H1917.1L1917.1,1206.3H1920.9L1920.9,1209.2H1924.7L1924.7,1204.7H1928.5L1928.5,1194.6H1932.3L1932.3,1212.5H1936.1L1936.1,1206.7H1939.9L1939.9,1200.3H1943.7L1943.7,1209.7H1947.5L1947.5,1211.3H1951.3L1951.3,1203.5H1955.1L1955.1,1212H1958.9L1958.9,1205.4H1962.7L1962.7,1210.2H1966.5L1966.5,1197.3H1970.3L1970.3,1211.4H1974.1L1974.1,1196.6H1977.9L1977.9,1204.1H1981.7L1981.7,1201.3H1985.5L1985.5,1201.1H1989.3L1989.3,1204.3H1993.1L1993.1,1203H1996.9L1996.9,1209.5H2000.7L2000.7,1199.6H2004.5L2004.5,1204.7H2008.3L2008.3,1203.4H2012.1L2012.1,1211H2015.9L2015.9,1207.1H2019.7L2019.7,1206.6H2023.5L2023.5,1206.6H2027.3L2027.3,1211.2H2031.1L2031.1,1212.7H2034.9L2034.9,1207.4H2038.7L2038.7,1208.7H2042.5L2042.5,1205.4H2046.3L2046.3,1209.2H2050.1L2050.1,1201.2H2053.9L2053.9,1197H2057.7L2057.7,1204H2061.5L2061.5,1205H2065.3L2065.3,1209.5H2069.1L2069.1,1206.1H2072.9L2072.9,1192.6H2076.7L2076.7,1210.6H2080.5L2080.5,1202.6H2084.3L2084.3,1206.4H2088.1L2088.1,1206H2091.9L2091.9,1214.7H2095.7L2095.7,1209H2099.5L2099.5,1205.7H2103.3L2103.3,1200.8H2107.1L2107.1,1210.1H2110.9L2110.9,1203.1H2114.7L2114.7,1200.9H2118.5L2118.5,1210H2122.3L2122.3,1195.4H2126.1L2126.1,1210.2H2129.9L2129.9,1205.1H2133.7L2133.7,1211.6H2137.5L2137.5,1208.1H2141.3L2141.3,1201.2H2145.1L2145.1,1209.3H2148.9L2148.9,1207.5H2152.7L2152.7,1208.6H2156.5L2156.5,1202.9H2160.3L2160.3,1213.7H2164.1L2164.1,1212H2167.9L2167.9,1209.1H2171.7L2171.7,1212.4H2175.5L2175.5,1205.3H2179.3L2179.3,1206.2H2183.1L2183.1,1205.2H2186.9L2186.9,1196.6H2190.7L2190.7,1201.4H2194.5L2194.5,1192.3H2198.3L2198.3,1199.5H2202.1L2202.1,1210.5H2205.9L2205.9,1211H2209.7L2209.7,1212.1H2213.5L2213.5,1206.9H2217.3L2217.3,1203.2H2221.1L2221.1,1212H2224.9L2224.9,1196.8H2228.7L2228.7,1201.4H2232.5L2232.5,1201.2H2236.3L2236.3,1203.9H2240.1L2240.1,1199.7H2243.9L2243.9,1207.4H2247.7L2247.7,1203.3H2251.5L2251.5,1202.6H2255.3L2255.3,1201.2H2259.1L2259.1,1203H2262.9L2262.9,1210H2266.7L2266.7,1205.9H2270.5L2270.5,1200.4H2274.3L2274.3,1208.9H2278.1L2278.1,1208.5H2281.9L2281.9,1206.2H2285.7L2285.7,1207.7H2289.5L2289.5,1199H2293.3L2293.3,1204.2H2297.1L2297.1,1206.7H2300.9L2300.9,1206.6H2304.7L2304.7,1209.9H2308.5L2308.5,1205.3H2312.3L2312.3,1201.5H2316.1L2316.1,1210.9H2319.9L2319.9,1206.6H2322L2322,1254.3H2319.9L2319.9,1244.8H2316.1L2316.1,1251.1H2312.3L2312.3,1251.3H2308.5L2308.5,1250.4H2304.7L2304.7,1244.3H2300.9L2300.9,1252.8H2297.1L2297.1,1256H2293.3L2293.3,1252H2289.5L2289.5,1251.1H2285.7L2285.7,1242.5H2281.9L2281.9,1253.7H2278.1L2278.1,1252.8H2274.3L2274.3,1251H2270.5L2270.5,1244.1H2266.7L2266.7,1244.3H2262.9L2262.9,1249.1H2259.1L2259.1,1252.5H2255.3L2255.3,1241.8H2251.5L2251.5,1246.9H2247.7L2247.7,1249.1H2243.9L2243.9,1242.5H2240.1L2240.1,1257.6H2236.3L2236.3,1256.4H2232.5L2232.5,1247.1H2228.7L2228.7,1249.5H2224.9L2224.9,1256.4H2221.1L2221.1,1245.1H2217.3L2217.3,1250.8H2213.5L2213.5,1247.8H2209.7L2209.7,1250.1H2205.9L2205.9,1245.9H2202.1L2202.1,1245.2H2198.3L2198.3,1239.6H2194.5L2194.5,1239.1H2190.7L2190.7,1246.3H2186.9L2186.9,1247.3H2183.1L2183.1,1240.7H2179.3L2179.3,1256.8H2175.5L2175.5,1248.4H2171.7L2171.7,1249.2H2167.9L2167.9,1244H2164.1L2164.1,1253.1H2160.3L2160.3,1254.8H2156.5L2156.5,1246.1H2152.7L2152.7,1244.7H2148.9L2148.9,1248.8H2145.1L2145.1,1253H2141.3L2141.3,1258.2H2137.5L2137.5,1246.1H2133.7L2133.7,1250.2H2129.9L2129.9,1249.1H2126.1L2126.1,1248.4H2122.3L2122.3,1256.5H2118.5L2118.5,1260.6H2114.7L2114.7,1251.4H2110.9L2110.9,1244.5H2107.1L2107.1,1247.6H2103.3L2103.3,1243.8H2099.5L2099.5,1248.3H2095.7L2095.7,1254.9H2091.9L2091.9,1240.5H2088.1L2088.1,1251H2084.3L2084.3,1249.4H2080.5L2080.5,1251.8H2076.7L2076.7,1239.9H2072.9L2072.9,1246.5H2069.1L2069.1,1245.2H2065.3L2065.3,1252.1H2061.5L2061.5,1253.2H2057.7L2057.7,1241.1H2053.9L2053.9,1251.8H2050.1L2050.1,1241.9H2046.3L2046.3,1245.1H2042.5L2042.5,1254.7H2038.7L2038.7,1242.6H2034.9L2034.9,1247.2H2031.1L2031.1,1243.7H2027.3L2027.3,1258.3H2023.5L2023.5,1251.9H2019.7L2019.7,1251.6H2015.9L2015.9,1251.7H2012.1L2012.1,1246.7H2008.3L2008.3,1246.1H2004.5L2004.5,1249.1H2000.7L2000.7,1249.5H1996.9L1996.9,1250.5H1993.1L1993.1,1246H1989.3L1989.3,1245.7H1985.5L1985.5,1254.2H1981.7L1981.7,1243.9H1977.9L1977.9,1243.9H1974.1L1974.1,1264.7H1970.3L1970.3,1249.5H1966.5L1966.5,1250.8H1962.7L1962.7,1263H1958.9L1958.9,1248.1H1955.1L1955.1,1259.4H1951.3L1951.3,1250.2H1947.5L1947.5,1259.3H1943.7L1943.7,1249.7H1939.9L1939.9,1250.1H1936.1L1936.1,1242.7H1932.3L1932.3,1242.4H1928.5L1928.5,1256.1H1924.7L1924.7,1256.5H1920.9L1920.9,1248.9H1917.1L1917.1,1248.9H1913.3L1913.3,1244.1H1909.5L1909.5,1243.7H1905.7L1905.7,1264.3H1901.9L1901.9,1261.7H1898.1L1898.1,1242.5H1894.3L1894.3,1250.8H1890.5L1890.5,1245.1H1886.7L1886.7,1250.1H1882.9L1882.9,1248.2H1879.1L1879.1,1244.8H1875.3L1875.3,1259.7H1871.5L1871.5,1258.1H1867.7L1867.7,1239.4H1863.9L1863.9,1244.6H1860.1L1860.1,1242.9H1856.3L1856.3,1239H1852.5L1852.5,1239H1848.7L1848.7,1238.4H1844.9L1844.9,1250.5H1841.1L1841.1,1247.5H1837.3L1837.3,1245.6H1833.5L1833.5,1252.5H1829.7L1829.7,1245.9H1825.9L1825.9,1246.5H1822.1L1822.1,1238.6H1818.3L1818.3,1241.5H1814.5L1814.5,1248.7H1810.7L1810.7,1245H1806.9L1806.9,1235.5H1803.1L1803.1,1240.9H1799.3L1799.3,1246H1795.5L1795.5,1238.2H1791.7L1791.7,1234.5H1787.9L1787.9,1231.4H1784.1L1784.1,1232.5H1780.3L1780.3,1235.4H1776.5L1776.5,1231.4H1772.7L1772.7,1237.5H1768.9L1768.9,1251.7H1765.1L1765.1,1235.6H1761.3L1761.3,1243.2H1757.5L1757.5,1238.2H1753.7L1753.7,1238.1H1749.9L1749.9,1237.4H1746.1L1746.1,1239.5H1742.3L1742.3,1236.2H1738.5L1738.5,1237.4H1734.7L1734.7,1236.8H1730.9L1730.9,1231H1727.1L1727.1,1235.4H1723.3L1723.3,1232.4H1719.5L1719.5,1229.8H1715.7L1715.7,1230.8H1711.9L1711.9,1228.5H1708.1L1708.1,1237.6H1704.3L1704.3,1241.8H1700.5L1700.5,1235.5H1696.7L1696.7,1238.1H1692.9L1692.9,1237.4H1689.1L1689.1,1233.4H1685.3L1685.3,1229.9H1681.5L1681.5,1230H1677.7L1677.7,1244.1H1673.9L1673.9,1240.8H1670.1L1670.1,1232.2H1666.3L1666.3,1224.6H1662.5L1662.5,1240H1658.7L1658.7,1227.5H1654.9L1654.9,1227.7H1651.1L1651.1,1222.7H1647.3L1647.3,1228.4H1643.5L1643.5,1220.2H1639.7L1639.7,1232.9H1635.9L1635.9,1219.8H1632.1L1632.1,1220.6H1628.3L1628.3,1234.1H1624.5L1624.5,1227.1H1620.7L1620.7,1222.6H1616.9L1616.9,1226.7H1613.1L1613.1,1225.7H1609.3L1609.3,1225.8H1605.5L1605.5,1229H1601.7L1601.7,1220.3H1597.9L1597.9,1219H1594.1L1594.1,1218.4H1590.3L1590.3,1218.9H1586.5L1586.5,1223.1H1582.7L1582.7,1213.6H1578.9L1578.9,1216.4H1575.1L1575.1,1221.7H1571.3L1571.3,1219.1H1567.5L1567.5,1224.7H1563.7L1563.7,1214.8H1559.9L1559.9,1218.9H1556.1L1556.1,1214.6H1552.3L1552.3,1218.3H1548.5L1548.5,1211.9H1544.7L1544.7,1215H1540.9L1540.9,1207.9H1537.1L1537.1,1209.3H1533.3L1533.3,1212.4H1529.5L1529.5,1206.3H1525.7L1525.7,1214.9H1521.9L1521.9,1205.8H1518.1L1518.1,1208.4H1514.3L1514.3,1211.2H1510.5L1510.5,1216.3H1506.7L1506.7,1214.6H1502.9L1502.9,1203.4H1499.1L1499.1,1200H1495.3L1495.3,1203.8H1491.5L1491.5,1201.9H1487.7L1487.7,1196.8H1483.9L1483.9,1202H1480.1L1480.1,1203.9H1476.3L1476.3,1210H1472.5L1472.5,1210.6H1468.7L1468.7,1197.1H1464.9L1464.9,1198.6H1461.1L1461.1,1195.5H1457.3L1457.3,1197.2H1453.5L1453.5,1195.6H1449.7L1449.7,1190.5H1445.9L1445.9,1204.5H1442.1L1442.1,1215.4H1438.3L1438.3,1198H1434.5Z" fill="#7c7c7c"/>
<path d="M1434.5,1150H1438.3L1438.3,1146.8H1442.1L1442.1,1145.7H1445.9L1445.9,1149.3H1449.7L1449.7,1152.5H1453.5L1453.5,1155.6H1457.3L1457.3,1153.7H1461.1L1461.1,1154.1H1464.9L1464.9,1151.6H1468.7L1468.7,1161.5H1472.5L1472.5,1159.7H1476.3L1476.3,1154.3H1480.1L1480.1,1154.3H1483.9L1483.9,1159.7H1487.7L1487.7,1162.3H1491.5L1491.5,1160H1495.3L1495.3,1163.4H1499.1L1499.1,1165.7H1502.9L1502.9,1165.9H1506.7L1506.7,1163.3H1510.5L1510.5,1164.1H1514.3L1514.3,1172.3H1518.1L1518.1,1171.9H1521.9L1521.9,1176.5H1525.7L1525.7,1174.4H1529.5L1529.5,1174.3H1533.3L1533.3,1171.6H1537.1L1537.1,1174.7H1540.9L1540.9,1173.5H1544.7L1544.7,1172.8H1548.5L1548.5,1172.1H1552.3L1552.3,1175.3H1556.1L1556.1,1173.7H1559.9L1559.9,1171.4H1563.7L1563.7,1174.9H1567.5L1567.5,1173.9H1571.3L1571.3,1177.8H1575.1L1575.1,1174.2H1578.9L1578.9,1183.5H1582.7L1582.7,1184.6H1586.5L1586.5,1182.2H1590.3L1590.3,1179.8H1594.1L1594.1,1187.8H1597.9L1597.9,1186.7H1601.7L1601.7,1185.8H1605.5L1605.5,1186.8H1609.3L1609.3,1190.3H1613.1L1613.1,1186.6H1616.9L1616.9,1184.3H1620.7L1620.7,1187.2H1624.5L1624.5,1186.1H1628.3L1628.3,1181.9H1632.1L1632.1,1189.4H1635.9L1635.9,1184.4H1639.7L1639.7,1184.9H1643.5L1643.5,1189.6H1647.3L1647.3,1184.6H1651.1L1651.1,1190.4H1654.9L1654.9,1191.2H1658.7L1658.7,1187.8H1662.5L1662.5,1193.5H1666.3L1666.3,1194.3H1670.1L1670.1,1196.3H1673.9L1673.9,1191.4H1677.7L1677.7,1193.1H1681.5L1681.5,1192.3H1685.3L1685.3,1194H1689.1L1689.1,1195H1692.9L1692.9,1191.2H1696.7L1696.7,1192.2H1700.5L1700.5,1189.8H1704.3L1704.3,1192.7H1708.1L1708.1,1194.7H1711.9L1711.9,1191.5H1715.7L1715.7,1194.5H1719.5L1719.5,1194.6H1723.3L1723.3,1200.9H1727.1L1727.1,1202H1730.9L1730.9,1200.2H1734.7L1734.7,1197.2H1738.5L1738.5,1203.1H1742.3L1742.3,1196.4H1746.1L1746.1,1200.2H1749.9L1749.9,1199.3H1753.7L1753.7,1203.3H1757.5L1757.5,1198.2H1761.3L1761.3,1199H1765.1L1765.1,1202.8H1768.9L1768.9,1198.6H1772.7L1772.7,1197.3H1776.5L1776.5,1198.3H1780.3L1780.3,1197.8H1784.1L1784.1,1196.4H1787.9L1787.9,1205.6H1791.7L1791.7,1202.5H1795.5L1795.5,1206.4H1799.3L1799.3,1203.8H1803.1L1803.1,1204.8H1806.9L1806.9,1208.6H1810.7L1810.7,1202.3H1814.5L1814.5,1207.7H1818.3L1818.3,1206.3H1822.1L1822.1,1207.4H1825.9L1825.9,1206.3H1829.7L1829.7,1203.4H1833.5L1833.5,1208.5H1837.3L1837.3,1208.2H1841.1L1841.1,1201.6H1844.9L1844.9,1205.1H1848.7L1848.7,1204.6H1852.5L1852.5,1205.7H1856.3L1856.3,1208.6H1860.1L1860.1,1207.8H1863.9L1863.9,1203.5H1867.7L1867.7,1211.5H1871.5L1871.5,1206.2H1875.3L1875.3,1210.2H1879.1L1879.1,1207.1H1882.9L1882.9,1213.4H1886.7L1886.7,1207.2H1890.5L1890.5,1205.2H1894.3L1894.3,1206.6H1898.1L1898.1,1210.5H1901.9L1901.9,1205.8H1905.7L1905.7,1204.7H1909.5L1909.5,1208.6H1913.3L1913.3,1207.7H1917.1L1917.1,1206.3H1920.9L1920.9,1209.2H1924.7L1924.7,1207.2H1928.5L1928.5,1211.1H1932.3L1932.3,1212.5H1936.1L1936.1,1206.7H1939.9L1939.9,1205.2H1943.7L1943.7,1211.2H1947.5L1947.5,1213.2H1951.3L1951.3,1206.4H1955.1L1955.1,1212H1958.9L1958.9,1205.6H1962.7L1962.7,1210.2H1966.5L1966.5,1202.9H1970.3L1970.3,1211.4H1974.1L1974.1,1210.8H1977.9L1977.9,1207.1H1981.7L1981.7,1209.1H1985.5L1985.5,1208H1989.3L1989.3,1204.4H1993.1L1993.1,1203H1996.9L1996.9,1212.2H2000.7L2000.7,1208.1H2004.5L2004.5,1206.8H2008.3L2008.3,1213.1H2012.1L2012.1,1212.2H2015.9L2015.9,1210H2019.7L2019.7,1208.2H2023.5L2023.5,1206.6H2027.3L2027.3,1211.2H2031.1L2031.1,1213.8H2034.9L2034.9,1212.2H2038.7L2038.7,1210.3H2042.5L2042.5,1207.7H2046.3L2046.3,1211.6H2050.1L2050.1,1203.2H2053.9L2053.9,1202.8H2057.7L2057.7,1204H2061.5L2061.5,1208.6H2065.3L2065.3,1212.7H2069.1L2069.1,1209.2H2072.9L2072.9,1205.5H2076.7L2076.7,1210.6H2080.5L2080.5,1209.6H2084.3L2084.3,1207.5H2088.1L2088.1,1211.8H2091.9L2091.9,1214.7H2095.7L2095.7,1213.4H2099.5L2099.5,1208.4H2103.3L2103.3,1207.3H2107.1L2107.1,1210.7H2110.9L2110.9,1207.6H2114.7L2114.7,1204.1H2118.5L2118.5,1210H2122.3L2122.3,1209.5H2126.1L2126.1,1210.2H2129.9L2129.9,1205.1H2133.7L2133.7,1211.6H2137.5L2137.5,1209H2141.3L2141.3,1208.2H2145.1L2145.1,1209.3H2148.9L2148.9,1207.5H2152.7L2152.7,1208.6H2156.5L2156.5,1209H2160.3L2160.3,1213.7H2164.1L2164.1,1212.7H2167.9L2167.9,1210.2H2171.7L2171.7,1214.4H2175.5L2175.5,1208.2H2179.3L2179.3,1210.8H2183.1L2183.1,1205.2H2186.9L2186.9,1209H2190.7L2190.7,1203.7H2194.5L2194.5,1205.1H2198.3L2198.3,1207H2202.1L2202.1,1210.5H2205.9L2205.9,1213.8H2209.7L2209.7,1212.3H2213.5L2213.5,1208.3H2217.3L2217.3,1207.8H2221.1L2221.1,1213.3H2224.9L2224.9,1206.3H2228.7L2228.7,1206.3H2232.5L2232.5,1210H2236.3L2236.3,1208.3H2240.1L2240.1,1211.6H2243.9L2243.9,1211.9H2247.7L2247.7,1210.9H2251.5L2251.5,1202.6H2255.3L2255.3,1201.8H2259.1L2259.1,1203H2262.9L2262.9,1210H2266.7L2266.7,1207.4H2270.5L2270.5,1209H2274.3L2274.3,1208.9H2278.1L2278.1,1208.5H2281.9L2281.9,1212.7H2285.7L2285.7,1214.8H2289.5L2289.5,1212H2293.3L2293.3,1208.8H2297.1L2297.1,1208.7H2300.9L2300.9,1206.6H2304.7L2304.7,1212H2308.5L2308.5,1211.6H2312.3L2312.3,1209.9H2316.1L2316.1,1210.9H2319.9L2319.9,1207.6H2322L2322,1247.6H2319.9L2319.9,1244H2316.1L2316.1,1243.7H2312.3L2312.3,1245.6H2308.5L2308.5,1250.4H2304.7L2304.7,1243.1H2300.9L2300.9,1250H2297.1L2297.1,1247.5H2293.3L2293.3,1250.7H2289.5L2289.5,1247.3H2285.7L2285.7,1242.5H2281.9L2281.9,1244.3H2278.1L2278.1,1246.1H2274.3L2274.3,1250.8H2270.5L2270.5,1241.6H2266.7L2266.7,1242.2H2262.9L2262.9,1247.2H2259.1L2259.1,1242.2H2255.3L2255.3,1241.8H2251.5L2251.5,1246.9H2247.7L2247.7,1241.7H2243.9L2243.9,1241.7H2240.1L2240.1,1244.3H2236.3L2236.3,1249.3H2232.5L2232.5,1247.1H2228.7L2228.7,1248H2224.9L2224.9,1248.9H2221.1L2221.1,1245.1H2217.3L2217.3,1247.7H2213.5L2213.5,1240.2H2209.7L2209.7,1246.8H2205.9L2205.9,1239H2202.1L2202.1,1243.1H2198.3L2198.3,1238.4H2194.5L2194.5,1238.8H2190.7L2190.7,1244.7H2186.9L2186.9,1242.7H2183.1L2183.1,1240.7H2179.3L2179.3,1241.7H2175.5L2175.5,1243.6H2171.7L2171.7,1249.1H2167.9L2167.9,1240.9H2164.1L2164.1,1247.1H2160.3L2160.3,1245.3H2156.5L2156.5,1243.6H2152.7L2152.7,1241.9H2148.9L2148.9,1244.1H2145.1L2145.1,1248.8H2141.3L2141.3,1243H2137.5L2137.5,1244.5H2133.7L2133.7,1240.9H2129.9L2129.9,1246.7H2126.1L2126.1,1248.4H2122.3L2122.3,1247.2H2118.5L2118.5,1244H2114.7L2114.7,1244.1H2110.9L2110.9,1243.9H2107.1L2107.1,1244.2H2103.3L2103.3,1243.7H2099.5L2099.5,1245.3H2095.7L2095.7,1244.9H2091.9L2091.9,1240.5H2088.1L2088.1,1247H2084.3L2084.3,1246.6H2080.5L2080.5,1238.9H2076.7L2076.7,1239.9H2072.9L2072.9,1246.5H2069.1L2069.1,1243.4H2065.3L2065.3,1238.9H2061.5L2061.5,1241.4H2057.7L2057.7,1241H2053.9L2053.9,1240.9H2050.1L2050.1,1239.9H2046.3L2046.3,1239.5H2042.5L2042.5,1245.9H2038.7L2038.7,1242.6H2034.9L2034.9,1246.4H2031.1L2031.1,1243.7H2027.3L2027.3,1247.3H2023.5L2023.5,1250.7H2019.7L2019.7,1251.6H2015.9L2015.9,1251.7H2012.1L2012.1,1244.6H2008.3L2008.3,1244.9H2004.5L2004.5,1248.3H2000.7L2000.7,1246.5H1996.9L1996.9,1250H1993.1L1993.1,1243.8H1989.3L1989.3,1244.5H1985.5L1985.5,1249.1H1981.7L1981.7,1243.9H1977.9L1977.9,1243.9H1974.1L1974.1,1248.9H1970.3L1970.3,1247.7H1966.5L1966.5,1249H1962.7L1962.7,1249.1H1958.9L1958.9,1245.2H1955.1L1955.1,1245.5H1951.3L1951.3,1250.2H1947.5L1947.5,1242.2H1943.7L1943.7,1247.1H1939.9L1939.9,1249H1936.1L1936.1,1242.7H1932.3L1932.3,1242.1H1928.5L1928.5,1239.8H1924.7L1924.7,1239.8H1920.9L1920.9,1239.4H1917.1L1917.1,1241.5H1913.3L1913.3,1243.9H1909.5L1909.5,1240.7H1905.7L1905.7,1246.5H1901.9L1901.9,1244.2H1898.1L1898.1,1239.8H1894.3L1894.3,1245.2H1890.5L1890.5,1243.6H1886.7L1886.7,1244.4H1882.9L1882.9,1247.5H1879.1L1879.1,1244.8H1875.3L1875.3,1247.3H1871.5L1871.5,1241.2H1867.7L1867.7,1239.4H1863.9L1863.9,1242.8H1860.1L1860.1,1239.9H1856.3L1856.3,1238.5H1852.5L1852.5,1239H1848.7L1848.7,1238.4H1844.9L1844.9,1246H1841.1L1841.1,1245.5H1837.3L1837.3,1243.7H1833.5L1833.5,1245.5H1829.7L1829.7,1245.9H1825.9L1825.9,1245.3H1822.1L1822.1,1238.6H1818.3L1818.3,1239H1814.5L1814.5,1236H1810.7L1810.7,1237.4H1806.9L1806.9,1233.5H1803.1L1803.1,1240.9H1799.3L1799.3,1236.6H1795.5L1795.5,1233.4H1791.7L1791.7,1234.5H1787.9L1787.9,1231.4H1784.1L1784.1,1231.8H1780.3L1780.3,1228.9H1776.5L1776.5,1229.4H1772.7L1772.7,1232.3H1768.9L1768.9,1231.3H1765.1L1765.1,1234H1761.3L1761.3,1235.6H1757.5L1757.5,1232.7H1753.7L1753.7,1237.9H1749.9L1749.9,1237.4H1746.1L1746.1,1235.4H1742.3L1742.3,1236.2H1738.5L1738.5,1237.4H1734.7L1734.7,1230.9H1730.9L1730.9,1230.8H1727.1L1727.1,1231.6H1723.3L1723.3,1229.9H1719.5L1719.5,1229.8H1715.7L1715.7,1229.8H1711.9L1711.9,1228.5H1708.1L1708.1,1230.2H1704.3L1704.3,1236.2H1700.5L1700.5,1231.6H1696.7L1696.7,1228.7H1692.9L1692.9,1230.1H1689.1L1689.1,1229.6H1685.3L1685.3,1228.7H1681.5L1681.5,1229.3H1677.7L1677.7,1233.2H1673.9L1673.9,1225.5H1670.1L1670.1,1225.6H1666.3L1666.3,1224.6H1662.5L1662.5,1231.7H1658.7L1658.7,1227.5H1654.9L1654.9,1227.6H1651.1L1651.1,1221.5H1647.3L1647.3,1228.4H1643.5L1643.5,1220.2H1639.7L1639.7,1225.9H1635.9L1635.9,1219.4H1632.1L1632.1,1220.6H1628.3L1628.3,1222.6H1624.5L1624.5,1223.8H1620.7L1620.7,1222.6H1616.9L1616.9,1224.9H1613.1L1613.1,1221.7H1609.3L1609.3,1216.9H1605.5L1605.5,1224.8H1601.7L1601.7,1216.9H1597.9L1597.9,1217.4H1594.1L1594.1,1218.4H1590.3L1590.3,1214.8H1586.5L1586.5,1220.7H1582.7L1582.7,1213.6H1578.9L1578.9,1215.4H1575.1L1575.1,1212.8H1571.3L1571.3,1211.5H1567.5L1567.5,1218.9H1563.7L1563.7,1213.5H1559.9L1559.9,1218.9H1556.1L1556.1,1212.9H1552.3L1552.3,1216.9H1548.5L1548.5,1211.9H1544.7L1544.7,1210.8H1540.9L1540.9,1207.9H1537.1L1537.1,1208.5H1533.3L1533.3,1210.7H1529.5L1529.5,1206.3H1525.7L1525.7,1212.5H1521.9L1521.9,1203.3H1518.1L1518.1,1207.4H1514.3L1514.3,1208.4H1510.5L1510.5,1203.7H1506.7L1506.7,1197.8H1502.9L1502.9,1198.5H1499.1L1499.1,1200H1495.3L1495.3,1203.8H1491.5L1491.5,1198.6H1487.7L1487.7,1196.1H1483.9L1483.9,1201.9H1480.1L1480.1,1198.2H1476.3L1476.3,1199.9H1472.5L1472.5,1199.2H1468.7L1468.7,1193.4H1464.9L1464.9,1196.7H1461.1L1461.1,1193.9H1457.3L1457.3,1192.4H1453.5L1453.5,1195.3H1449.7L1449.7,1190.5H1445.9L1445.9,1193.7H1442.1L1442.1,1199.2H1438.3L1438.3,1197.5H1434.5Z" fill="#000"/>
<line x1="1427.2" y1="961" x2="2328.2" y2="961" stroke="#000" stroke-width="7.5" />
<line x1="1431" y1="961" x2="1431" y2="1666.8" stroke="#000" stroke-width="7.5" />
<line x1="1415" y1="1650.8" x2="2324.2" y2="1650.8" stroke="#000" stroke-width="7.5" />
<line x1="2322.4" y1="964.8" x2="2322.4" y2="1647" stroke="#44449a" stroke-width="3.8" />
<line x1="2330.2" y1="964.8" x2="2330.2" y2="1654.5" stroke="#b4b4c3" stroke-width="4" />
<line x1="2326.2" y1="957.2" x2="2326.2" y2="1654.5" stroke="#06068e" stroke-width="5" />
<line x1="1636.4" y1="1650.8" x2="1636.4" y2="1665.8" stroke="#000" stroke-width="6.5" />
<line x1="1843.3" y1="1650.8" x2="1843.3" y2="1665.8" stroke="#000" stroke-width="6.5" />
<line x1="2050.2" y1="1650.8" x2="2050.2" y2="1665.8" stroke="#000" stroke-width="6.5" />
<line x1="2257.1" y1="1650.8" x2="2257.1" y2="1665.8" stroke="#000" stroke-width="6.5" />
<line x1="1533" y1="1650.8" x2="1533" y2="1660.3" stroke="#000" stroke-width="6.5" />
<line x1="1739.8" y1="1650.8" x2="1739.8" y2="1660.3" stroke="#000" stroke-width="6.5" />
<line x1="1946.8" y1="1650.8" x2="1946.8" y2="1660.3" stroke="#000" stroke-width="6.5" />
<line x1="2153.7" y1="1650.8" x2="2153.7" y2="1660.3" stroke="#000" stroke-width="6.5" />
<line x1="1431" y1="1530" x2="1414.2" y2="1530" stroke="#000" stroke-width="6" />
<line x1="1431" y1="1409.1" x2="1414.2" y2="1409.1" stroke="#000" stroke-width="6" />
<line x1="1431" y1="1288.1" x2="1414.2" y2="1288.1" stroke="#000" stroke-width="6" />
<line x1="1431" y1="1167.2" x2="1414.2" y2="1167.2" stroke="#000" stroke-width="6" />
<line x1="1431" y1="1046.2" x2="1414.2" y2="1046.2" stroke="#000" stroke-width="6" />
<line x1="1431" y1="1590.5" x2="1420.8" y2="1590.5" stroke="#000" stroke-width="6" />
<line x1="1431" y1="1469.6" x2="1420.8" y2="1469.6" stroke="#000" stroke-width="6" />
<line x1="1431" y1="1348.6" x2="1420.8" y2="1348.6" stroke="#000" stroke-width="6" />
<line x1="1431" y1="1227.6" x2="1420.8" y2="1227.6" stroke="#000" stroke-width="6" />
<line x1="1431" y1="1106.7" x2="1420.8" y2="1106.7" stroke="#000" stroke-width="6" />
<line x1="1431" y1="985.7" x2="1420.8" y2="985.7" stroke="#000" stroke-width="6" />
<text transform="translate(1403.5,1660.7) scale(1,1.075)" font-size="42" fill="#5e5e5e" text-anchor="end">0</text>
<text transform="translate(1403.5,1539.7) scale(1,1.075)" font-size="42" fill="#5e5e5e" text-anchor="end">-200</text>
<text transform="translate(1403.5,1418.8) scale(1,1.075)" font-size="42" fill="#5e5e5e" text-anchor="end">-400</text>
<text transform="translate(1403.5,1297.8) scale(1,1.075)" font-size="42" fill="#5e5e5e" text-anchor="end">-600</text>
<text transform="translate(1403.5,1176.9) scale(1,1.075)" font-size="42" fill="#5e5e5e" text-anchor="end">-800</text>
<text transform="translate(1403.5,1055.9) scale(1,1.075)" font-size="42" fill="#5e5e5e" text-anchor="end">-1000</text>
<line x1="2326" y1="1650.3" x2="2340.5" y2="1650.3" stroke="#5a5aff" stroke-width="4.5" />
<line x1="2326" y1="1524.3" x2="2340.5" y2="1524.3" stroke="#5a5aff" stroke-width="4.5" />
<line x1="2326" y1="1398.4" x2="2340.5" y2="1398.4" stroke="#5a5aff" stroke-width="4.5" />
<line x1="2326" y1="1272.4" x2="2340.5" y2="1272.4" stroke="#5a5aff" stroke-width="4.5" />
<line x1="2326" y1="1146.5" x2="2340.5" y2="1146.5" stroke="#5a5aff" stroke-width="4.5" />
<line x1="2326" y1="1020.5" x2="2340.5" y2="1020.5" stroke="#5a5aff" stroke-width="4.5" />
<line x1="2326" y1="1587.3" x2="2335" y2="1587.3" stroke="#6a6aff" stroke-width="4.5" />
<line x1="2326" y1="1461.4" x2="2335" y2="1461.4" stroke="#6a6aff" stroke-width="4.5" />
<line x1="2326" y1="1335.4" x2="2335" y2="1335.4" stroke="#6a6aff" stroke-width="4.5" />
<line x1="2326" y1="1209.4" x2="2335" y2="1209.4" stroke="#6a6aff" stroke-width="4.5" />
<line x1="2326" y1="1083.5" x2="2335" y2="1083.5" stroke="#6a6aff" stroke-width="4.5" />
<text transform="translate(2346.5,1661.5) scale(1,1.075)" font-size="42" fill="#6464ff" text-anchor="start">0</text>
<text transform="translate(2346.5,1535.5) scale(1,1.075)" font-size="42" fill="#6464ff" text-anchor="start">20</text>
<text transform="translate(2346.5,1409.6) scale(1,1.075)" font-size="42" fill="#6464ff" text-anchor="start">40</text>
<text transform="translate(2346.5,1283.6) scale(1,1.075)" font-size="42" fill="#6464ff" text-anchor="start">60</text>
<text transform="translate(2346.5,1157.7) scale(1,1.075)" font-size="42" fill="#6464ff" text-anchor="start">80</text>
<text transform="translate(2346.5,1031.7) scale(1,1.075)" font-size="42" fill="#6464ff" text-anchor="start">100</text>
<text transform="translate(2465.8,1433.5) rotate(-90) scale(1,1.1)" font-size="42" fill="#6c6cff">CO FE (%)</text>
<text transform="translate(1268,1582) rotate(-90)" font-size="42" letter-spacing="0.3" fill="#5e5e5e">Mass Activity (mA<tspan font-size="24.5" dy="15.5">co</tspan><tspan dy="-15.5"> / mg</tspan><tspan font-size="23.5" dy="15.5">NC</tspan><tspan dy="-15.5">)</tspan></text>
<rect x="1496.8" y="1013.8" width="15.5" height="13.5" fill="#0000ff"/>
<rect x="1647" y="995.2" width="13" height="17.5" fill="#0000ff"/>
<rect x="1793.2" y="987.5" width="13" height="17" fill="#0000ff"/>
<rect x="1941.5" y="993.5" width="15.5" height="15" fill="#0000ff"/>
<rect x="2091.9" y="1010.2" width="15.5" height="14" fill="#0000ff"/>
<rect x="2240" y="995.9" width="16" height="15.5" fill="#0000ff"/>
</g>
<g id="dAxisText" filter="url(#b2)">
<text x="1437.2" y="1718.5" font-size="50.5" fill="#6a6a6a" text-anchor="middle" font-weight="normal" >0</text>
<text x="1638.5" y="1718.5" font-size="50.5" fill="#6a6a6a" text-anchor="middle" font-weight="normal" >5000</text>
<text x="1850.8" y="1715.3" font-size="50.5" fill="#6a6a6a" text-anchor="middle" font-weight="normal" >10,000</text>
<text x="2045.2" y="1715.3" font-size="50.5" fill="#6a6a6a" text-anchor="middle" font-weight="normal" >15,000</text>
<text x="2251.6" y="1715.3" font-size="50.5" fill="#6a6a6a" text-anchor="middle" font-weight="normal" >20,000</text>
<text x="1871.5" y="1776.8" font-size="47.5" fill="#5a5a5a" text-anchor="middle" font-weight="normal" >t (s)</text>
</g>
<g id="panelLetters" fill="#000" filter="url(#b2)">
<text font-size="100"><tspan x="33.1" y="105.3" textLength="27" lengthAdjust="spacingAndGlyphs">(</tspan><tspan x="62.7" y="106.3" font-size="97" textLength="61" lengthAdjust="spacingAndGlyphs">A</tspan><tspan x="131.2" y="105.3" textLength="27" lengthAdjust="spacingAndGlyphs">)</tspan></text>
<text font-size="100"><tspan x="1206.4" y="100.3" textLength="27" lengthAdjust="spacingAndGlyphs">(</tspan><tspan x="1237.2" y="101.3" font-size="97" textLength="58.8" lengthAdjust="spacingAndGlyphs">B</tspan><tspan x="1303.2" y="100.3" textLength="27" lengthAdjust="spacingAndGlyphs">)</tspan></text>
<text font-size="100"><tspan x="33" y="910.3" textLength="27" lengthAdjust="spacingAndGlyphs">(</tspan><tspan x="64.9" y="911.3" font-size="97" textLength="55.7" lengthAdjust="spacingAndGlyphs">C</tspan><tspan x="124" y="910.3" textLength="27" lengthAdjust="spacingAndGlyphs">)</tspan></text>
<text font-size="100"><tspan x="1216.4" y="923.5" textLength="27" lengthAdjust="spacingAndGlyphs">(</tspan><tspan x="1250.1" y="924.5" font-size="97" textLength="64.5" lengthAdjust="spacingAndGlyphs">D</tspan><tspan x="1322" y="923.5" textLength="27" lengthAdjust="spacingAndGlyphs">)</tspan></text>
</g>
</svg></body></html>
